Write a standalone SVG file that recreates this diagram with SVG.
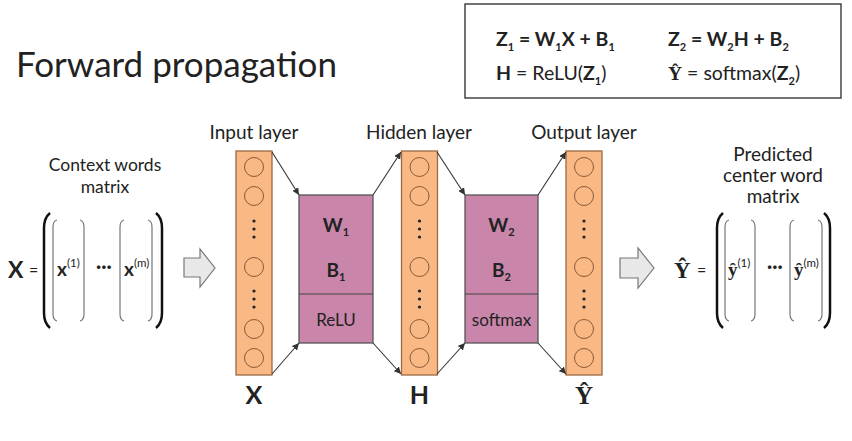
<svg xmlns="http://www.w3.org/2000/svg" width="852" height="441" viewBox="0 0 852 441">
<defs>
<style>
text{font-family:Lato,"Open Sans","Liberation Sans",sans-serif;fill:#222}
.title{font-size:35px}
.lbl{font-size:17.5px}
.ll{font-size:19px}
.f{font-size:19.5px;font-weight:bold}
.n{font-weight:normal}
.sb{font-size:11px}
.ser{font-family:"Liberation Serif","DejaVu Serif",serif;font-weight:bold}
.col{fill:#F9B884;stroke:#9a6a45;stroke-width:1.3}
.nd{fill:none;stroke:#8a5a35;stroke-width:1}
.dot{fill:#222}
.box{fill:#C986AA;stroke:#555;stroke-width:1.3}
.bt{font-size:19px;font-weight:bold;text-anchor:middle}
.bn{font-size:17px;text-anchor:middle}
.big{font-size:25px;font-weight:bold;text-anchor:middle}
.par{fill:none;stroke:#111;stroke-width:2.5}
.brk{fill:none;stroke:#777;stroke-width:1.2}
.blk{fill:#E8E8E8;stroke:#777;stroke-width:1.2}
.con{stroke:#333;stroke-width:1.1;fill:none;marker-end:url(#ah)}
.mt{font-size:19px;font-weight:bold}
.sp{font-size:11.5px;font-weight:normal}
</style>
<marker id="ah" viewBox="0 0 10 10" refX="10" refY="5" markerWidth="7" markerHeight="7" markerUnits="userSpaceOnUse" orient="auto">
<path d="M0,0 L10,5 L0,10 z" fill="#333"/>
</marker>
<g id="column">
<rect class="col" x="-18" y="0" width="36" height="224"/>
<circle class="nd" cx="0" cy="16" r="9.5"/>
<circle class="nd" cx="0" cy="45" r="9.5"/>
<circle class="dot" cx="0" cy="70" r="1.6"/>
<circle class="dot" cx="0" cy="78" r="1.6"/>
<circle class="dot" cx="0" cy="86" r="1.6"/>
<circle class="nd" cx="0" cy="116" r="9.5"/>
<circle class="dot" cx="0" cy="140" r="1.6"/>
<circle class="dot" cx="0" cy="148" r="1.6"/>
<circle class="dot" cx="0" cy="156" r="1.6"/>
<circle class="nd" cx="0" cy="178" r="9.5"/>
<circle class="nd" cx="0" cy="207" r="9.5"/>
</g>
</defs>
<rect width="852" height="441" fill="#fff"/>

<text class="title" x="16" y="77">Forward propagation</text>

<g id="formulas">
<rect x="465" y="4" width="376" height="94" fill="#fff" stroke="#444" stroke-width="1.5"/>
<text class="f" x="496" y="46">Z<tspan class="sb" dy="5">1</tspan><tspan dy="-5"> = W</tspan><tspan class="sb" dy="5">1</tspan><tspan dy="-5">X + B</tspan><tspan class="sb" dy="5">1</tspan></text>
<text class="f" x="496" y="80">H<tspan class="n"> = ReLU(</tspan>Z<tspan class="sb" dy="5">1</tspan><tspan class="n" dy="-5">)</tspan></text>
<text class="f" x="668" y="46">Z<tspan class="sb" dy="5">2</tspan><tspan dy="-5"> = W</tspan><tspan class="sb" dy="5">2</tspan><tspan dy="-5">H + B</tspan><tspan class="sb" dy="5">2</tspan></text>
<text class="f" x="668" y="80"><tspan class="ser">Ŷ</tspan><tspan class="n"> = softmax(</tspan>Z<tspan class="sb" dy="5">2</tspan><tspan class="n" dy="-5">)</tspan></text>
</g>

<g id="context-matrix">
<text class="lbl" x="105" y="171" text-anchor="middle">Context words</text>
<text class="lbl" x="105" y="193" text-anchor="middle">matrix</text>
<text x="8" y="278" font-size="23" font-weight="bold">X</text>
<text x="29" y="276" font-size="16">=</text>
<path class="par" d="M50,213 Q44,218 44,228 L44,313 Q44,323 50,328"/>
<path class="par" d="M156,213 Q162,218 162,228 L162,313 Q162,323 156,328"/>
<path class="brk" d="M57,220 Q53,221 53,227 L53,314 Q53,320 57,321"/>
<path class="brk" d="M80,220 Q84,221 84,227 L84,314 Q84,320 80,321"/>
<path class="brk" d="M124,220 Q120,221 120,227 L120,314 Q120,320 124,321"/>
<path class="brk" d="M148,220 Q152,221 152,227 L152,314 Q152,320 148,321"/>
<text class="mt" x="57" y="276">x<tspan class="sp" dy="-9">(1)</tspan></text>
<text class="mt" x="96" y="273">···</text>
<text class="mt" x="124" y="276">x<tspan class="sp" dy="-9">(m)</tspan></text>
</g>

<g id="arrow-in">
<path class="blk" d="M184,258 L200,258 L200,249 L215,268 L200,287 L200,277 L184,277 Z"/>
</g>

<g id="input-layer">
<text class="ll" x="254" y="139" text-anchor="middle">Input layer</text>
<use href="#column" x="254" y="151"/>
<text class="big" x="254" y="404">X</text>
</g>

<g id="weights-1">
<rect class="box" x="299" y="195" width="74" height="148"/>
<line x1="299" y1="294" x2="373" y2="294" stroke="#444" stroke-width="1.2"/>
<text class="bt" x="336" y="232">W<tspan font-size="11" dy="4">1</tspan></text>
<text class="bt" x="336" y="277">B<tspan font-size="11" dy="4">1</tspan></text>
<text class="bn" x="336" y="326">ReLU</text>
</g>

<g id="hidden-layer">
<text class="ll" x="419" y="139" text-anchor="middle">Hidden layer</text>
<use href="#column" x="419.5" y="151"/>
<text class="big" x="419.5" y="404">H</text>
</g>

<g id="weights-2">
<rect class="box" x="465" y="195" width="73" height="148"/>
<line x1="465" y1="294" x2="538" y2="294" stroke="#444" stroke-width="1.2"/>
<text class="bt" x="501.5" y="232">W<tspan font-size="11" dy="4">2</tspan></text>
<text class="bt" x="501.5" y="277">B<tspan font-size="11" dy="4">2</tspan></text>
<text class="bn" x="501.5" y="326">softmax</text>
</g>

<g id="output-layer">
<text class="ll" x="584" y="139" text-anchor="middle">Output layer</text>
<use href="#column" x="584" y="151"/>
<text class="ser" x="584" y="404" font-size="25" text-anchor="middle">Ŷ</text>
</g>

<g id="arrow-out">
<path class="blk" d="M620,258 L638,258 L638,248 L654,268 L638,288 L638,278 L620,278 Z"/>
</g>

<g id="predicted-matrix">
<text class="ll" x="773" y="161" text-anchor="middle">Predicted</text>
<text class="ll" x="773" y="182" text-anchor="middle">center word</text>
<text class="ll" x="773" y="203" text-anchor="middle">matrix</text>
<text class="ser" x="674" y="278" font-size="23">Ŷ</text>
<text x="697" y="276" font-size="16">=</text>
<path class="par" d="M723,213 Q717,218 717,228 L717,313 Q717,323 723,328"/>
<path class="par" d="M824,213 Q830,218 830,228 L830,313 Q830,323 824,328"/>
<path class="brk" d="M729,220 Q725,221 725,227 L725,314 Q725,320 729,321"/>
<path class="brk" d="M751,220 Q755,221 755,227 L755,314 Q755,320 751,321"/>
<path class="brk" d="M794,220 Q790,221 790,227 L790,314 Q790,320 794,321"/>
<path class="brk" d="M818,220 Q822,221 822,227 L822,314 Q822,320 818,321"/>
<text x="728" y="276"><tspan class="ser" font-size="19">ŷ</tspan><tspan class="sp" dy="-9">(1)</tspan></text>
<text class="mt" x="767" y="273">···</text>
<text x="794" y="276"><tspan class="ser" font-size="19">ŷ</tspan><tspan class="sp" dy="-9">(m)</tspan></text>
</g>

<g id="connectors">
<line class="con" x1="272" y1="152" x2="299" y2="195"/>
<line class="con" x1="272" y1="374" x2="299" y2="343"/>
<line class="con" x1="373" y1="195" x2="401" y2="152"/>
<line class="con" x1="373" y1="343" x2="401" y2="374"/>
<line class="con" x1="437" y1="152" x2="465" y2="195"/>
<line class="con" x1="437" y1="374" x2="465" y2="343"/>
<line class="con" x1="538" y1="195" x2="566" y2="152"/>
<line class="con" x1="538" y1="343" x2="566" y2="374"/>
</g>
</svg>
